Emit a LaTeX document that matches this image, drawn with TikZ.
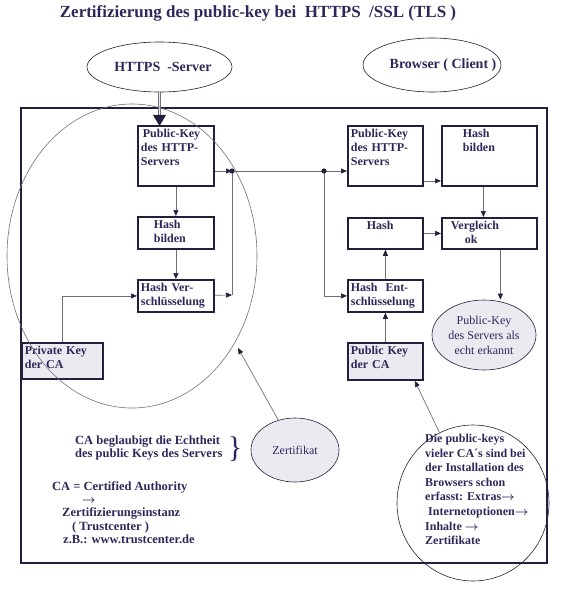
\documentclass[tikz,border=0pt]{standalone}
\usepackage{amsmath}
\usepackage{fontspec}
\setmainfont{Liberation Serif}
\usetikzlibrary{arrows.meta,shapes.geometric}

\definecolor{ink}{RGB}{45,40,90}
\definecolor{edge}{RGB}{35,30,60}
\definecolor{wire}{RGB}{110,110,125}
\definecolor{shade}{RGB}{234,234,240}

\newcommand{\nextstep}{$\boldsymbol{\rightarrow}$}

\begin{document}
\begin{tikzpicture}[x=1pt,y=-1pt]

\useasboundingbox (0,0) rectangle (566,591);

\tikzstyle{box}=[draw=edge,line width=1.8pt,fill=white,anchor=north west,align=left,inner sep=3pt,text height=9pt,text=ink,font=\bfseries\fontsize{12}{14}\selectfont]
\tikzstyle{role}=[ellipse,draw=edge,line width=0.6pt,fill=white,inner sep=0pt,text=ink,font=\bfseries\fontsize{14}{16}\selectfont]
\tikzstyle{blob}=[ellipse,draw=edge,line width=0.6pt,fill=shade,inner sep=0pt,align=center,text=ink,font=\fontsize{12}{15}\selectfont]
\tikzstyle{note}=[align=left,inner sep=0pt,text=ink,font=\bfseries\fontsize{12.5}{13.4}\selectfont]
\tikzstyle{arr}=[draw=wire,line width=0.7pt,-{Triangle[length=6pt,width=5pt,color=edge]}]
\tikzstyle{wire}=[draw=wire,line width=0.7pt]

%title
\node[text=ink,font=\bfseries\fontsize{17}{20}\selectfont] (title) at (258,13) {Zertifizierung des public-key bei\ \ HTTPS\ \ /SSL (TLS )};

%frame
\draw[edge,line width=1.8pt] (21,108) rectangle (547,563);

%roles
\node[role,minimum width=145pt,minimum height=50pt] (srv) at (159.5,67) {\makebox[0pt]{\hspace*{7pt}HTTPS\ \ -Server}};
\node[role,minimum width=138pt,minimum height=54pt] (cli) at (432,65) {\makebox[0pt]{\hspace*{22pt}Browser ( Client )}};

%server side
\node[box,text width=70pt,text depth=45pt] (pk1) at (137,125) {\hspace*{2pt}Public-Key\\des HTTP-\\Servers};
\node[box,text width=70pt,text depth=17pt] (hb1) at (137,216) {\hspace*{13pt}Hash\\\hspace*{13pt}bilden};
\node[box,text width=70pt,text depth=17pt] (hv) at (137,279) {Hash Ver-\\schlüsselung};
\node[box,fill=shade,text width=75pt,text depth=21pt] (priv) at (21,342) {Private Key\\der CA};

%browser side
\node[box,text width=69pt,text depth=45pt] (pk2) at (347,125) {Public-Key\\des HTTP-\\Servers};
\node[box,text width=89pt,text depth=45pt] (hb2) at (441,125) {\hspace*{18pt}Hash\\\hspace*{18pt}bilden};
\node[box,text width=69pt,text depth=16pt] (hash) at (347,217) {\hspace*{16pt}Hash};
\node[box,text width=89pt,text depth=16pt] (vg) at (441,217) {\hspace*{6pt}Vergleich\\\hspace*{20pt}ok};
\node[box,text width=69pt,text depth=17pt] (hent) at (347,279) {Hash\ \ Ent-\\schlüsselung};
\node[box,fill=shade,text width=69pt,text depth=22pt] (pkca) at (347,342) {Public Key\\der CA};
\node[blob,minimum width=104pt,minimum height=70pt] (ok) at (484,335) {Public-Key\\des Servers als\\echt erkannt};

%junctions
\coordinate (j1) at (232,171);
\coordinate (j2) at (232,295);
\coordinate (j3) at (324,171);
\coordinate (ctip) at (238,348);

%connections
\draw[wire,double=shade,double distance=1.4pt,line width=0.5pt,shorten >=8pt] (srv.south) -- (srv.south |- pk1.north);
\fill[edge] ([yshift=-1pt]srv.south |- pk1.north) -- ++(-6.5,-11) -- ++(13,0) -- cycle;
\draw[arr] (pk1) -- (hb1);
\draw[arr] (hb1) -- (hv);
\draw[arr] (priv.north) |- (hv);
\draw[arr] (hv) -- (j2);
\draw[wire] (j2) -- (j1);
\draw[arr] (pk1.east |- j1) -- (j1);
\draw[wire] (j1) -- (j3);
\draw[arr] (j3) -- (j3 -| pk2.west);
\draw[arr] (j3) |- (hent);
\fill[edge] (j1) circle (2.6pt);
\fill[edge] (j3) circle (2.6pt);

\draw[arr] ([yshift=-25pt]pk2.east) -- ([yshift=-25pt]pk2.east -| hb2.west);
\draw[arr] ([xshift=-6pt]hb2.south) -- ([xshift=-6pt]vg.north);
\draw[arr] (hash) -- (vg);
\draw[arr] (hent) -- (hash);
\draw[arr] (pkca) -- (hent);
\draw[arr] ([xshift=11pt]vg.south) -- ([xshift=11pt]vg.south |- ok.north);

%certificate
\draw[wire,line width=0.6pt] (132,256) ellipse (125 and 152);
\node[blob,minimum width=88pt,minimum height=64pt] (zert) at (295,450) {Zertifikat};
\draw[arr] (zert) -- (ctip);
\node[note,anchor=west] (echt) at (75,448) {CA beglaubigt die Echtheit\\des public Keys des Servers};
\node[text=ink,inner sep=0pt,font=\fontsize{30}{30}\selectfont] (brace) at (235,449) {\}};
\node[note,anchor=north west] (ca) at (52,481) {CA = Certified Authority\\\hspace*{30pt}\nextstep\\\hspace*{10pt}Zertifizierungsinstanz\\\hspace*{20pt}( Trustcenter )\\\hspace*{11pt}z.B.: www.trustcenter.de};

%preinstalled keys
\node[ellipse,draw=edge,line width=0.6pt,minimum width=152pt,minimum height=156pt] (info) at (473,503) {};
\node[note,font=\bfseries\fontsize{12}{14.6}\selectfont,anchor=north west] (infotxt) at (425,434) {Die public-keys\\vieler CA´s sind bei\\der Installation des\\Browsers schon\\erfasst: Extras\nextstep\\\hspace*{3pt}Internetoptionen\nextstep\\Inhalte \nextstep\\Zertifikate};
\draw[arr] (info) -- ([xshift=-9pt]pkca.south east);

\end{tikzpicture}
\end{document}
